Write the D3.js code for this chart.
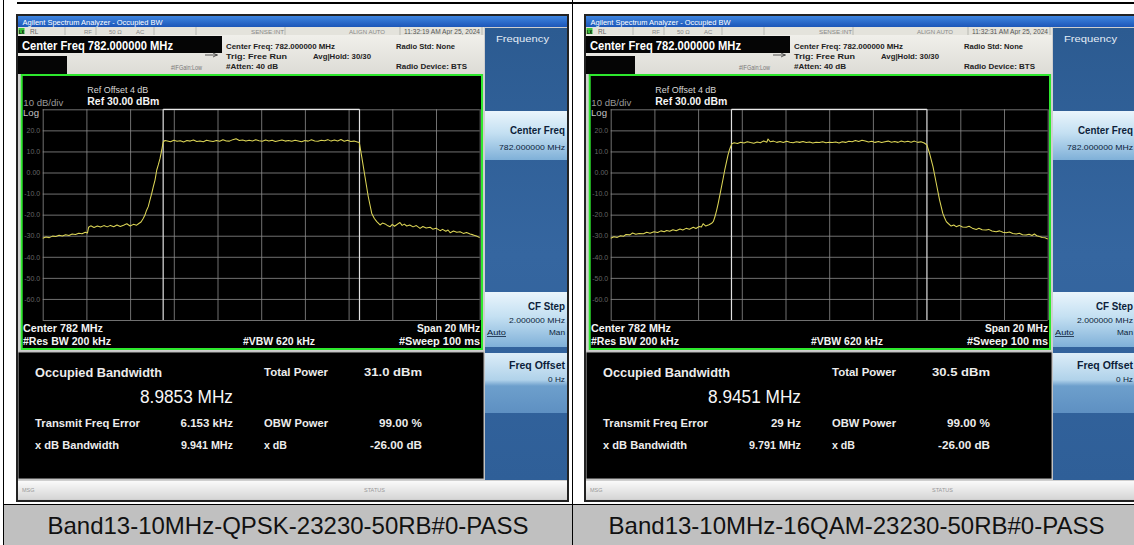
<!DOCTYPE html>
<html><head><meta charset="utf-8">
<script src="https://cdn.jsdelivr.net/npm/d3@7"></script>
<style>html,body{margin:0;padding:0;background:#fff;overflow:hidden}</style>
</head><body><svg id="c" width="1134" height="545"></svg>
<script>
// ---------------- DATA ----------------
const captions = ["Band13-10MHz-QPSK-23230-50RB#0-PASS", "Band13-10MHz-16QAM-23230-50RB#0-PASS"];
const timestamps = ["11:32:19 AM Apr 25, 2024", "11:32:31 AM Apr 25, 2024"];
const centerFreqLabel = "Center Freq 782.000000 MHz";
const spanMHz = 20;
const refLevel = 30;
const bottomLevel = -70;
const yTickValues = [20, 10, 0, -10, -20, -30, -40, -50, -60];
const yTickLabels = ["20.0", "10.0", "0.00", "-10.0", "-20.0", "-30.0", "-40.0", "-50.0", "-60.0"];
const xTickValues = [-10, -8, -6, -4, -2, 0, 2, 4, 6, 8, 10];
const obwMHz = [8.9853, 8.9451];
const obwText = ["8.9853 MHz", "8.9451 MHz"];
const freqErrorMHz = [0.006153, 0.000029];
const freqErrorText = ["6.153 kHz", "29 Hz"];
const totalPowerText = ["31.0 dBm", "30.5 dBm"];
const xdbBandwidthText = ["9.941 MHz", "9.791 MHz"];
const obwPowerText = ["99.00 %", "99.00 %"];
const xdbText = ["-26.00 dB", "-26.00 dB"];

// trace: [offset from centre (MHz), level (dBm)]
const traceQPSK = [
[-10.0,-31.2],[-9.85,-30.6],[-9.7,-30.9],[-9.55,-30.2],[-9.4,-30.4],[-9.25,-29.8],[-9.1,-30.1],[-8.95,-29.5],[-8.8,-29.9],[-8.65,-29.2],[-8.5,-29.4],[-8.35,-28.8],[-8.2,-29.1],[-8.05,-28.4],[-7.95,-28.7],[-7.9,-26.0],[-7.8,-25.3],[-7.65,-26.1],[-7.5,-25.4],[-7.35,-25.9],[-7.2,-25.2],[-7.05,-25.8],[-6.9,-25.1],[-6.75,-25.7],[-6.6,-24.9],[-6.45,-25.6],[-6.3,-25.0],[-6.15,-24.3],[-6.0,-25.4],[-5.85,-24.6],[-5.7,-25.0],[-5.6,-24.2],[-5.5,-23.5],[-5.4,-21.8],[-5.32,-20.2],[-5.25,-18.0],[-5.17,-16.2],[-5.09,-13.0],[-5.01,-9.9],[-4.94,-6.8],[-4.86,-3.6],[-4.78,1.2],[-4.71,3.6],[-4.63,6.7],[-4.55,10.7],[-4.51,13.1],[-4.48,14.6],[-4.4,15.2],
[-4.3,15.0],[-4.15,14.6],[-4.0,15.3],[-3.85,14.8],[-3.7,15.1],[-3.55,14.5],[-3.4,15.2],[-3.25,14.9],[-3.1,15.4],[-2.95,14.7],[-2.8,15.0],[-2.65,14.6],[-2.5,15.3],[-2.35,15.0],[-2.2,14.7],[-2.05,15.2],[-1.9,14.8],[-1.75,15.5],[-1.6,15.0],[-1.45,14.9],[-1.3,15.6],[-1.15,16.0],[-1.0,15.2],[-0.85,15.4],[-0.7,14.9],[-0.55,15.3],[-0.4,15.0],[-0.25,15.5],[-0.1,15.1],[0.05,14.8],[0.2,15.4],[0.35,15.0],[0.5,15.3],[0.65,14.7],[0.8,15.1],[0.95,15.4],[1.1,14.9],[1.25,15.2],[1.4,14.8],[1.55,15.3],[1.7,15.0],[1.85,14.6],[2.0,15.2],[2.15,14.9],[2.3,15.5],[2.45,15.0],[2.6,14.8],[2.75,15.3],[2.9,15.1],[3.05,15.6],[3.2,14.9],[3.35,15.4],[3.5,15.0],[3.65,15.7],[3.8,14.8],[3.95,15.3],[4.1,14.7],[4.25,14.9],[4.4,14.5],[4.49,14.2],
[4.6,7.5],[4.75,-2.0],[4.9,-11.5],[5.06,-19.4],[5.18,-21.8],[5.29,-23.3],[5.44,-24.9],[5.55,-24.0],[5.67,-24.4],[5.8,-25.3],[5.9,-25.7],[6.0,-24.6],[6.1,-25.5],[6.2,-24.8],[6.35,-23.7],[6.45,-25.1],[6.55,-24.5],[6.66,-25.4],[6.8,-24.9],[6.95,-25.8],[7.1,-25.2],[7.27,-26.5],[7.4,-25.6],[7.55,-26.3],[7.73,-26.0],[7.85,-26.9],[8.0,-26.4],[8.19,-27.6],[8.3,-27.0],[8.45,-27.9],[8.55,-27.3],[8.65,-28.6],[8.8,-27.8],[8.95,-28.4],[9.1,-28.1],[9.25,-28.9],[9.4,-28.5],[9.56,-29.2],[9.7,-29.6],[9.85,-30.1],[10.0,-30.9]
];
const trace16QAM = [
[-10.0,-31.2],[-9.85,-30.5],[-9.7,-30.8],[-9.55,-30.0],[-9.42,-30.3],[-9.3,-29.4],[-9.12,-29.6],[-9.0,-28.7],[-8.85,-29.3],[-8.7,-28.9],[-8.5,-29.1],[-8.35,-28.4],[-8.2,-28.8],[-8.02,-28.1],[-7.85,-28.5],[-7.7,-27.7],[-7.55,-28.1],[-7.44,-27.5],[-7.3,-27.9],[-7.15,-27.2],[-7.0,-27.6],[-6.83,-26.8],[-6.7,-27.3],[-6.55,-26.5],[-6.4,-26.9],[-6.22,-26.0],[-6.1,-26.6],[-5.95,-25.6],[-5.85,-25.9],[-5.77,-24.3],[-5.65,-25.4],[-5.5,-24.8],[-5.38,-24.1],[-5.3,-23.2],[-5.23,-21.0],[-5.15,-17.8],[-5.08,-14.6],[-5.0,-10.5],[-4.93,-6.8],[-4.85,-2.6],[-4.78,1.2],[-4.7,5.0],[-4.63,8.4],[-4.57,10.6],[-4.52,12.0],[-4.45,13.7],[-4.35,14.1],
[-4.2,13.8],[-4.05,14.4],[-3.9,14.0],[-3.75,14.6],[-3.6,14.2],[-3.45,13.9],[-3.3,14.5],[-3.15,14.1],[-3.0,15.0],[-2.85,14.4],[-2.8,15.9],[-2.7,14.6],[-2.55,14.9],[-2.4,14.3],[-2.25,14.7],[-2.1,14.2],[-1.95,14.8],[-1.8,14.4],[-1.65,14.1],[-1.5,14.6],[-1.35,14.3],[-1.2,14.7],[-1.05,14.2],[-0.9,14.5],[-0.75,14.0],[-0.6,14.4],[-0.45,14.2],[-0.3,14.6],[-0.15,14.1],[0.0,14.4],[0.15,14.2],[0.3,14.5],[0.45,14.0],[0.6,14.6],[0.75,14.3],[0.9,14.8],[1.05,14.6],[1.2,15.2],[1.35,14.7],[1.5,15.3],[1.65,14.9],[1.8,14.5],[1.95,14.8],[2.1,14.3],[2.25,14.7],[2.4,14.2],[2.55,14.6],[2.7,14.9],[2.85,14.4],[3.0,14.7],[3.15,14.3],[3.3,15.0],[3.45,14.5],[3.6,14.8],[3.75,14.4],[3.9,14.9],[4.05,14.3],[4.2,14.6],[4.35,14.0],[4.47,13.1],
[4.59,9.2],[4.75,2.8],[4.9,-5.1],[5.05,-13.0],[5.2,-19.4],[5.28,-21.5],[5.36,-23.3],[5.45,-24.2],[5.58,-25.4],[5.7,-24.9],[5.81,-25.7],[5.95,-25.1],[6.1,-25.9],[6.27,-26.0],[6.4,-25.5],[6.55,-26.4],[6.73,-27.0],[6.85,-26.5],[7.0,-27.2],[7.18,-27.3],[7.3,-27.0],[7.45,-27.8],[7.64,-28.1],[7.8,-27.7],[7.95,-28.4],[8.1,-28.6],[8.25,-28.2],[8.4,-28.9],[8.56,-29.2],[8.7,-28.8],[8.85,-29.5],[9.01,-29.7],[9.15,-29.3],[9.28,-29.9],[9.39,-29.2],[9.5,-30.0],[9.62,-30.4],[9.75,-30.8],[9.88,-31.0],[10.0,-31.6]
];
const traces = [traceQPSK, trace16QAM];

// ---------------- DRAWING ----------------
const svg = d3.select("#c");
const FONT = "'Liberation Sans', Arial, sans-serif";
const defs = svg.append("defs");
function lg(id, stops, vertical = true) {
  const g = defs.append("linearGradient").attr("id", id)
    .attr("x1", 0).attr("y1", 0).attr("x2", vertical ? 0 : 1).attr("y2", vertical ? 1 : 0);
  stops.forEach(s => g.append("stop").attr("offset", s[0]).attr("stop-color", s[1]));
}
lg("gTitle", [[0, "#3f86e0"], [1, "#1c56b8"]]);
lg("gPanel", [[0, "#2c5b91"], [0.5, "#3566a0"], [1, "#2f5f98"]]);
lg("gBtn", [[0, "#eaf5fc"], [0.45, "#c4e0f2"], [1, "#7fb0d8"]]);
lg("gBtn2", [[0, "#dcedf8"], [0.45, "#b0d2ea"], [0.55, "#6d9fcc"], [1, "#5e90c2"]]);
lg("gStatus", [[0, "#fafafa"], [1, "#d6d6d6"]]);
lg("gInfo", [[0, "#f0efea"], [1, "#dddcd6"]]);

function txt(g, x, y, s, o = {}) {
  const t = g.append("text").attr("x", x).attr("y", y).text(s)
    .attr("font-family", o.family || FONT)
    .attr("font-size", o.size || 10)
    .attr("font-weight", o.weight || "normal")
    .attr("fill", o.fill || "#000")
    .attr("text-anchor", o.anchor || "start");
  if (o.len) t.attr("textLength", o.len).attr("lengthAdjust", "spacingAndGlyphs");
  if (o.deco) t.attr("text-decoration", o.deco);
  return t;
}

function drawScreen(i, ox) {
  const g = svg.append("g").attr("transform", `translate(${ox},0)`);
  g.append("rect").attr("x", 17).attr("y", 15).attr("width", 551).attr("height", 487).attr("fill", "#cfcfcf");
  g.append("rect").attr("x", 18).attr("y", 16).attr("width", 550).attr("height", 11).attr("fill", "url(#gTitle)");
  txt(g, 22.5, 24.5, "Agilent Spectrum Analyzer - Occupied BW", {size: 7.5, fill: "#fff", len: 140});
  g.append("rect").attr("x", 18).attr("y", 27).attr("width", 466).attr("height", 8).attr("fill", "#e4e3dc");
  [65, 96, 154, 196, 285, 400, 482].forEach(x => g.append("line").attr("x1", x).attr("x2", x).attr("y1", 27).attr("y2", 35).attr("stroke", "#a8a8a0").attr("stroke-width", 0.7));
  g.append("rect").attr("x", 18.5).attr("y", 28).attr("width", 6).attr("height", 6).attr("fill", "#3cc43c");
  txt(g, 19, 33.5, "LX", {size: 5, fill: "#000", weight: "bold", len: 5});
  txt(g, 30, 33.5, "RL", {size: 6.5, fill: "#666"});
  txt(g, 84, 33.5, "RF", {size: 6, fill: "#888"});
  txt(g, 109, 33.5, "50 Ω", {size: 6, fill: "#888"});
  txt(g, 136, 33.5, "AC", {size: 6, fill: "#888"});
  txt(g, 251, 33.5, "SENSE:INT", {size: 6, fill: "#888", len: 33});
  txt(g, 349, 33.5, "ALIGN AUTO", {size: 6, fill: "#888", len: 36});
  txt(g, 404, 33.5, timestamps[i], {size: 6.5, fill: "#555", len: 76});
  g.append("rect").attr("x", 18).attr("y", 35).attr("width", 466).attr("height", 39).attr("fill", "url(#gInfo)");
  g.append("rect").attr("x", 18).attr("y", 36).attr("width", 204).attr("height", 17).attr("fill", "#050505");
  txt(g, 22, 49.5, centerFreqLabel, {size: 12.5, weight: "bold", fill: "#fff", len: 151});
  g.append("rect").attr("x", 18).attr("y", 56).attr("width", 49).attr("height", 18).attr("fill", "#050505");
  txt(g, 171, 70, "#IFGain:Low", {size: 7, fill: "#777", len: 31});
  g.append("line").attr("x1", 205).attr("x2", 218).attr("y1", 55).attr("y2", 55).attr("stroke", "#333").attr("stroke-width", 0.8);
  g.append("path").attr("d", "M213,53 L217,55 L213,57").attr("fill", "none").attr("stroke", "#333").attr("stroke-width", 0.8);
  txt(g, 226, 48.5, "Center Freq: 782.000000 MHz", {size: 8, weight: "bold", fill: "#222", len: 109});
  txt(g, 226, 58.5, "Trig: Free Run", {size: 8, weight: "bold", fill: "#222", len: 61});
  txt(g, 226, 69, "#Atten: 40 dB", {size: 8, weight: "bold", fill: "#222", len: 52});
  txt(g, 313, 58.5, "Avg|Hold: 30/30", {size: 8, weight: "bold", fill: "#222", len: 58});
  txt(g, 396, 48.5, "Radio Std: None", {size: 8, weight: "bold", fill: "#222", len: 59});
  txt(g, 396, 69, "Radio Device: BTS", {size: 8, weight: "bold", fill: "#222", len: 71});

  g.append("rect").attr("x", 485).attr("y", 28).attr("width", 82).attr("height", 452).attr("fill", "url(#gPanel)");
  txt(g, 496, 41.5, "Frequency", {size: 9, fill: "#e4edf6", len: 53});
  g.append("rect").attr("x", 485).attr("y", 111).attr("width", 82).attr("height", 49).attr("fill", "url(#gBtn)");
  txt(g, 565, 134, "Center Freq", {size: 10, weight: "bold", fill: "#0d1e3a", anchor: "end", len: 55});
  txt(g, 565, 149.5, "782.000000 MHz", {size: 8, fill: "#0d1e3a", anchor: "end", len: 66});
  g.append("rect").attr("x", 485).attr("y", 292).attr("width", 82).attr("height", 55).attr("fill", "url(#gBtn)");
  txt(g, 565, 310, "CF Step", {size: 10, weight: "bold", fill: "#0d1e3a", anchor: "end", len: 37});
  txt(g, 565, 322.5, "2.000000 MHz", {size: 8, fill: "#0d1e3a", anchor: "end", len: 56});
  txt(g, 487, 335, "Auto", {size: 8, fill: "#0d1e3a", len: 19, deco: "underline"});
  txt(g, 565, 335, "Man", {size: 8, fill: "#0d1e3a", anchor: "end", len: 16});
  g.append("rect").attr("x", 485).attr("y", 353).attr("width", 82).attr("height", 60).attr("fill", "url(#gBtn2)");
  txt(g, 565, 369, "Freq Offset", {size: 10, weight: "bold", fill: "#0d1e3a", anchor: "end", len: 56});
  txt(g, 565, 381.5, "0 Hz", {size: 8, fill: "#0d1e3a", anchor: "end", len: 17});

  g.append("rect").attr("x", 21.7).attr("y", 75).attr("width", 460.3).attr("height", 274).attr("fill", "#000")
    .attr("stroke", "#2ee82e").attr("stroke-width", 2);
  const x = d3.scaleLinear().domain([-spanMHz / 2, spanMHz / 2]).range([42.7, 479.7]);
  const y = d3.scaleLinear().domain([bottomLevel, refLevel]).range([320, 109.3]);
  const gx = g.append("g").attr("transform", "translate(0,320)")
    .call(d3.axisBottom(x).tickValues(xTickValues).tickSize(-(320 - 109.3)).tickFormat(""));
  const gy = g.append("g").attr("transform", "translate(42.7,0)")
    .call(d3.axisLeft(y).tickValues([refLevel].concat(yTickValues).concat([bottomLevel])).tickSize(-(479.7 - 42.7)).tickPadding(3)
      .tickFormat(v => { const k = yTickValues.indexOf(v); return k >= 0 ? yTickLabels[k] : ""; }));
  [gx, gy].forEach(a => {
    a.select(".domain").remove();
    a.selectAll(".tick line").attr("stroke", "#8c8c8c").attr("stroke-width", 1).attr("stroke-opacity", 0.8);
  });
  gy.selectAll(".tick text").attr("fill", "#666").attr("font-size", 7).attr("font-family", FONT).attr("x", -2.5);

  const fc = freqErrorMHz[i];
  const mL = x(fc - obwMHz[i] / 2), mR = x(fc + obwMHz[i] / 2);
  g.append("line").attr("x1", mL).attr("x2", mR).attr("y1", y(refLevel)).attr("y2", y(refLevel)).attr("stroke", "#e8e8e8").attr("stroke-width", 1.3);
  [mL, mR].forEach(m => g.append("line").attr("x1", m).attr("x2", m).attr("y1", y(refLevel)).attr("y2", y(bottomLevel)).attr("stroke", "#e0e0e0").attr("stroke-width", 1.2));

  const line = d3.line().x(d => x(d[0])).y(d => y(d[1]));
  g.append("path").datum(traces[i]).attr("d", line).attr("fill", "none")
    .attr("stroke", "#dcd556").attr("stroke-width", 1.05).attr("stroke-linejoin", "round");

  txt(g, 87.3, 93, "Ref Offset 4 dB", {size: 9, fill: "#d6d6d6", len: 61});
  txt(g, 87.3, 105, "Ref 30.00 dBm", {size: 10.5, weight: "bold", fill: "#f4f4f4", len: 72});
  txt(g, 23.3, 105.5, "10 dB/div", {size: 8.5, fill: "#9a9a9a", len: 40});
  txt(g, 23, 116, "Log", {size: 9, fill: "#c4c4c4", len: 16});
  txt(g, 23, 332, "Center  782 MHz", {size: 10.5, weight: "bold", fill: "#f4f4f4", len: 80});
  txt(g, 480, 332, "Span 20 MHz", {size: 10.5, weight: "bold", fill: "#f4f4f4", anchor: "end", len: 63});
  txt(g, 23, 345, "#Res BW  200 kHz", {size: 10.5, weight: "bold", fill: "#f4f4f4", len: 88});
  txt(g, 243, 345, "#VBW  620 kHz", {size: 10.5, weight: "bold", fill: "#f4f4f4", len: 72});
  txt(g, 480, 345, "#Sweep  100 ms", {size: 10.5, weight: "bold", fill: "#f4f4f4", anchor: "end", len: 81});

  g.append("rect").attr("x", 18).attr("y", 352).attr("width", 466).attr("height", 127).attr("fill", "#000")
    .attr("stroke", "#b8b8b8").attr("stroke-width", 1);
  const W = "#ececec";
  txt(g, 35, 377, "Occupied Bandwidth", {size: 13.5, weight: "bold", fill: W, len: 127});
  txt(g, 233, 403, obwText[i], {size: 18, fill: "#f6f6f6", anchor: "end", len: 93});
  txt(g, 264, 376, "Total Power", {size: 11.5, weight: "bold", fill: W, len: 64});
  txt(g, 364, 376, totalPowerText[i], {size: 11.5, weight: "bold", fill: W, len: 58});
  txt(g, 35, 427, "Transmit Freq Error", {size: 11.5, weight: "bold", fill: W, len: 105});
  txt(g, 233, 427, freqErrorText[i], {size: 11.5, weight: "bold", fill: W, anchor: "end"});
  txt(g, 264, 427, "OBW Power", {size: 11.5, weight: "bold", fill: W, len: 64});
  txt(g, 422, 427, obwPowerText[i], {size: 11.5, weight: "bold", fill: W, anchor: "end", len: 43});
  txt(g, 35, 449, "x dB Bandwidth", {size: 11.5, weight: "bold", fill: W, len: 84});
  txt(g, 233, 449, xdbBandwidthText[i], {size: 11.5, weight: "bold", fill: W, anchor: "end", len: 52});
  txt(g, 264, 449, "x dB", {size: 11.5, weight: "bold", fill: W, len: 23});
  txt(g, 422, 449, xdbText[i], {size: 11.5, weight: "bold", fill: W, anchor: "end", len: 52});

  g.append("rect").attr("x", 18).attr("y", 481).attr("width", 550).attr("height", 18).attr("fill", "url(#gStatus)");
  txt(g, 22, 492, "MSG", {size: 5.5, fill: "#999"});
  txt(g, 364, 492, "STATUS", {size: 5.5, fill: "#999"});
  g.append("rect").attr("x", 17).attr("y", 15).attr("width", 551).attr("height", 486).attr("fill", "none")
    .attr("stroke", "#222").attr("stroke-width", 2);
}

drawScreen(0, 0);
drawScreen(1, 568);

svg.append("rect").attr("x", 4).attr("y", 505).attr("width", 1130).attr("height", 40).attr("fill", "#c0c0c0");
svg.append("line").attr("x1", 3.5).attr("x2", 3.5).attr("y1", 0).attr("y2", 545).attr("stroke", "#000");
svg.append("line").attr("x1", 572.5).attr("x2", 572.5).attr("y1", 0).attr("y2", 545).attr("stroke", "#000");
svg.append("line").attr("x1", 3).attr("x2", 1134).attr("y1", 504.5).attr("y2", 504.5).attr("stroke", "#000");
svg.append("line").attr("x1", 17).attr("x2", 1134).attr("y1", 3).attr("y2", 3).attr("stroke", "#000").attr("stroke-width", 2);
[288, 856.5].forEach((cx, i) =>
  txt(svg, cx, 533.5, captions[i], {size: 24, fill: "#111", anchor: "middle"}));
</script></body></html>
